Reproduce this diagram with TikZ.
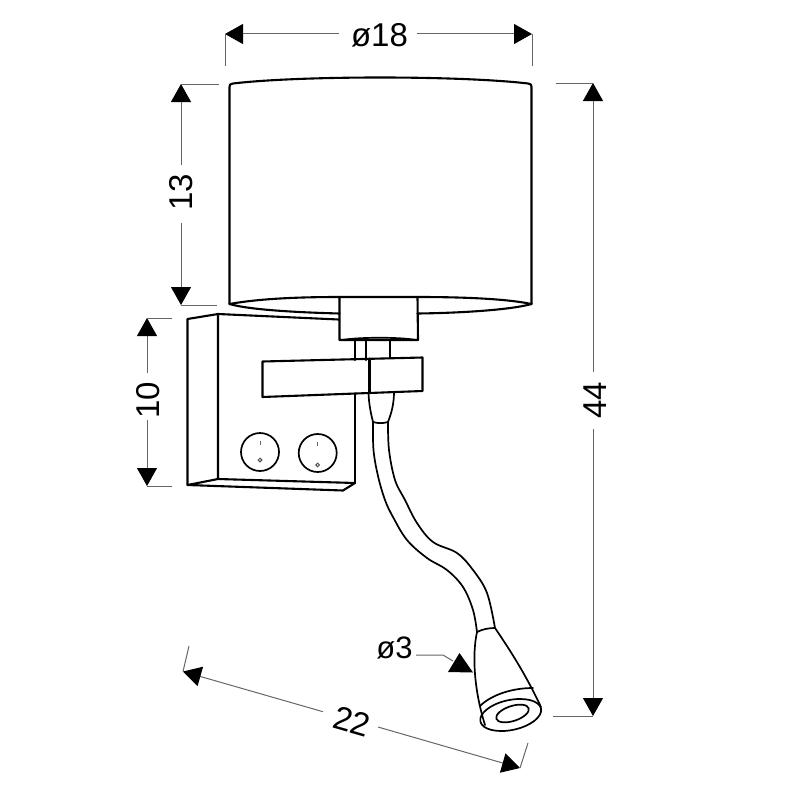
\documentclass[tikz,border=0pt]{standalone}
\usepackage{fontspec}
\setmainfont{Liberation Sans}
\usetikzlibrary{arrows.meta}
\tikzset{
  lamp/.style={line width=2.1pt,black,line join=round,line cap=round},
  thinlamp/.style={line width=1.7pt,black,line join=round,line cap=round},
  dimline/.style={line width=1pt,black!60},
  tip/.style={-{Triangle[length=18pt,width=20pt,color=black]},dimline},
  lbl/.style={font=\fontsize{33}{33}\selectfont,inner sep=0pt,outer sep=0pt,text height=24pt,text depth=0pt,anchor=center},
}
\begin{document}
\begin{tikzpicture}[x=1pt,y=-1pt]
\useasboundingbox (0,0) rectangle (800,800);
% --- shade
\draw[lamp] (229.5,304) -- (229.5,87) .. controls (229.5,84.5) and (230,84) .. (233,83.5)
  .. controls (300,75.5) and (460,75.5) .. (528,83.5) .. controls (531,84) and (531.5,84.5) .. (531.5,87) -- (531.5,304);
\draw[lamp] (229.5,304) .. controls (260,298.5) and (300,297) .. (339.5,297) -- (417.5,297)
  .. controls (460,297) and (505,298.5) .. (531.5,304);
\draw[lamp] (229.5,304) .. controls (250,310) and (300,312.5) .. (339.5,313.5);
\draw[lamp] (417.5,313.5) .. controls (460,313) and (510,310) .. (531.5,304);
% --- collar
\draw[lamp] (339.5,297) -- (339.5,340) -- (418,340) -- (417.5,297);
\draw[thinlamp] (342,340) .. controls (360,337) and (400,337) .. (416,340);
% --- stems
\draw[lamp] (355,341) -- (355,360);
\draw[lamp] (366,341) -- (366,360);
\draw[lamp] (390,341) -- (390,358);
% --- wall plate
\draw[lamp] (187.5,485) -- (187.5,319) -- (218,314) -- (338.5,319.5);
\draw[lamp] (218,314) -- (218,479) -- (355,483) -- (343,490.5) -- (187.5,485) -- (218,479);
\draw[lamp] (355,483) -- (355,393.5);
% --- arm
\draw[lamp] (262.5,361.5) -- (422.5,357.5) -- (422.5,391) -- (262.5,397) -- cycle;
\draw[lamp] (369.5,358.5) -- (369.5,393);
% --- neck and gooseneck
\draw[thinlamp] (368.5,393) .. controls (369,405) and (371,414) .. (373,422);
\draw[thinlamp] (394,392) .. controls (394,405) and (391,414) .. (388,422);
\draw[thinlamp] (373,422) .. controls (378,423.5) and (383,423.5) .. (388,422);
\draw[thinlamp] plot[smooth,tension=0.6] coordinates {(373,422) (373.5,450) (378,476) (385,500) (393,517) (407,540) (427,558) (447,570) (463,587) (473,610) (477,632)};
\draw[thinlamp] plot[smooth,tension=0.6] coordinates {(388,422) (389,450) (395,480) (405,500) (417,523) (433,542) (457,553) (473,570) (487,593) (495,628)};
% --- head
\draw[thinlamp] (477,632) .. controls (483,629) and (489,628) .. (495,628)
  .. controls (510,650) and (526,675) .. (541,707);
\draw[thinlamp] (477,632) .. controls (472,655) and (474,690) .. (485,725);
\draw[thinlamp] (480,706) .. controls (490,696) and (510,688) .. (533,688);
\draw[thinlamp] (510.7,715) ellipse [x radius=31, y radius=15, rotate=12];
\draw[thinlamp] (512.5,713.5) ellipse [x radius=17, y radius=7.5, rotate=18];
% --- switches
\draw[thinlamp] (260,452) circle [radius=19];
\draw[thinlamp] (317.7,453) circle [radius=19];
\draw[line width=1pt,black!60] (260,440.5) -- (260,445);
\draw[line width=1pt,black!60] (317.7,441.5) -- (317.7,446);
\draw[line width=1pt,black!70] (260,460) circle [radius=1.8];
\draw[line width=1pt,black!70] (317.7,465) circle [radius=1.8];
% --- labels
\node[lbl] (d18) at (379.5,34.5) {ø18};
\node[lbl,rotate=90] (d13) at (180.5,192) {13};
\node[lbl,rotate=90] (d10) at (147,400) {10};
\node[lbl,rotate=90] (d44) at (594.5,400) {44};
\node[lbl,rotate=-16] (d22) at (352,721) {22};
\node[lbl,font=\fontsize{31}{31}\selectfont] (d3) at (394.5,646) {ø3};
% --- dimension anchors
\coordinate (a18l) at (225,34); \coordinate (a18r) at (532,34);
\coordinate (a18ll) at (339,34); \coordinate (a18rr) at (417,34);
\coordinate (e18l) at (225,66); \coordinate (e18r) at (532,66);
\coordinate (a13t) at (181,84); \coordinate (a13b) at (181,305);
\coordinate (a13tt) at (181,165); \coordinate (a13bb) at (181,223);
\coordinate (e13t) at (219,84); \coordinate (e13b) at (217,305);
\coordinate (a10t) at (147,318); \coordinate (a10b) at (147,486);
\coordinate (a10tt) at (147,373); \coordinate (a10bb) at (147,420);
\coordinate (e10t) at (172,318); \coordinate (e10b) at (172,486);
\coordinate (a44t) at (593,83); \coordinate (a44b) at (593,716);
\coordinate (a44tt) at (593,372); \coordinate (a44bb) at (593,429);
\coordinate (e44t) at (556,83); \coordinate (e44b) at (553,716);
\coordinate (a22l) at (183,671.5); \coordinate (a22r) at (520,768);
\coordinate (a22ll) at (323,711.7); \coordinate (a22rr) at (378,727);
\coordinate (e22l) at (189,646); \coordinate (e22r) at (528,743);
% --- dimension lines
\draw[tip] (a18ll) -- (a18l);
\draw[tip] (a18rr) -- (a18r);
\draw[dimline] (a18l) -- (e18l);
\draw[dimline] (a18r) -- (e18r);
\draw[tip] (a13tt) -- (a13t);
\draw[tip] (a13bb) -- (a13b);
\draw[dimline] (a13t) -- (e13t);
\draw[dimline] (a13b) -- (e13b);
\draw[tip] (a10tt) -- (a10t);
\draw[tip] (a10bb) -- (a10b);
\draw[dimline] (a10t) -- (e10t);
\draw[dimline] (a10b) -- (e10b);
\draw[tip] (a44tt) -- (a44t);
\draw[tip] (a44bb) -- (a44b);
\draw[dimline] (a44t) -- (e44t);
\draw[dimline] (a44b) -- (e44b);
\draw[tip] (a22ll) -- (a22l);
\draw[tip] (a22rr) -- (a22r);
\draw[dimline] (a22l) -- (e22l);
\draw[dimline] (a22r) -- (e22r);
% --- small diameter leader
\coordinate (l3a) at (416,655); \coordinate (l3b) at (443,655); \coordinate (l3c) at (453,661);
\coordinate (t3a) at (459.5,653); \coordinate (t3b) at (448,672); \coordinate (t3c) at (473,672.5);
\draw[dimline] (l3a) -- (l3b) -- (l3c);
\fill[black] (t3a) -- (t3b) -- (t3c) -- cycle;
\end{tikzpicture}
\end{document}
